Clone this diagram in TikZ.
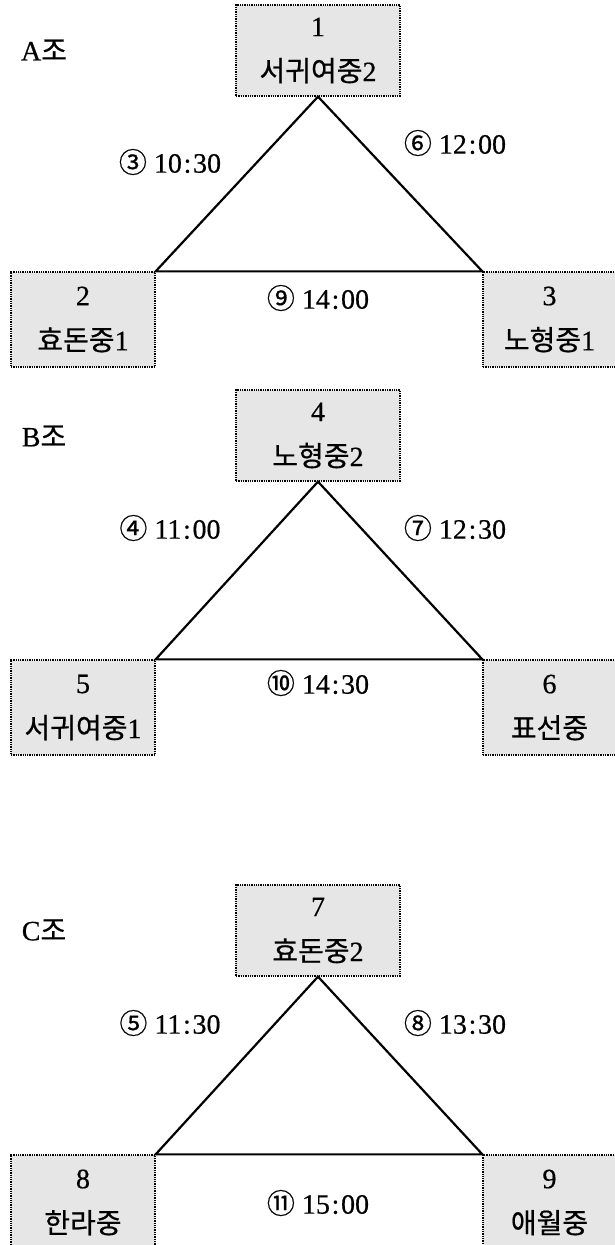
\documentclass[tikz,border=0pt]{standalone}
\usepackage{fontspec}
\setmainfont{Liberation Serif}[FakeBold=0.5]
\newfontfamily\kr{Noto Sans CJK KR}[FakeBold=0.6]
\definecolor{boxgray}{RGB}{230,230,230}
\newcommand\cln{\kern0.06em:\kern0.06em}
\begin{document}
\begin{tikzpicture}[x=1pt,y=-1pt,
  team/.style={draw=black, densely dotted, line width=1.3pt, fill=boxgray, align=center,
    font=\fontsize{28}{45}\selectfont, inner sep=0pt},
  topbox/.style={team, minimum width=164pt, minimum height=91pt},
  leftbox/.style={team, minimum width=144pt, minimum height=95pt},
  rightbox/.style={team, minimum width=133pt, minimum height=95pt},
  tri/.style={draw=black, line width=2.2pt, line join=miter},
  lbl/.style={font=\fontsize{28}{30}\selectfont, inner sep=0pt}]
\useasboundingbox (0,0) rectangle (614,1245);
% Group A
\node[topbox] (a1) at (318,50.5) {1\\{\kr 서귀여중}2};
\node[leftbox] (a2) at (83,319.5) {2\\{\kr 효돈중}1};
\node[rightbox] (a3) at (549.5,319.5) {3\\{\kr 노형중}1};
\draw[tri] (a1.south) -- (a2.north east) -- (a3.north west) -- cycle;
\node[lbl] (ga) at (44,50) {A{\kr 조}};
\node[lbl] (ta1) at (170,162) {{\kr ③} 10\cln30};
\node[lbl] (ta2) at (455,143) {{\kr ⑥} 12\cln00};
\node[lbl] (ta3) at (318,298) {{\kr ⑨} 14\cln00};
% Group B
\node[topbox] (b1) at (318,435.5) {4\\{\kr 노형중}2};
\node[leftbox] (b2) at (83,707.5) {5\\{\kr 서귀여중}1};
\node[rightbox] (b3) at (549.5,707.5) {6\\{\kr 표선중}};
\draw[tri] (b1.south) -- (b2.north east) -- (b3.north west) -- cycle;
\node[lbl] (gb) at (44,436) {B{\kr 조}};
\node[lbl] (tb1) at (170,528) {{\kr ④} 11\cln00};
\node[lbl] (tb2) at (455,528) {{\kr ⑦} 12\cln30};
\node[lbl] (tb3) at (318,683) {{\kr ⑩} 14\cln30};
% Group C
\node[topbox] (c1) at (318,930.5) {7\\{\kr 효돈중}2};
\node[leftbox] (c2) at (83,1202.5) {8\\{\kr 한라중}};
\node[rightbox] (c3) at (549.5,1202.5) {9\\{\kr 애월중}};
\draw[tri] (c1.south) -- (c2.north east) -- (c3.north west) -- cycle;
\node[lbl] (gc) at (44,930) {C{\kr 조}};
\node[lbl] (tc1) at (170,1023) {{\kr ⑤} 11\cln30};
\node[lbl] (tc2) at (455,1023) {{\kr ⑧} 13\cln30};
\node[lbl] (tc3) at (318,1203) {{\kr ⑪} 15\cln00};
\end{tikzpicture}
\end{document}
